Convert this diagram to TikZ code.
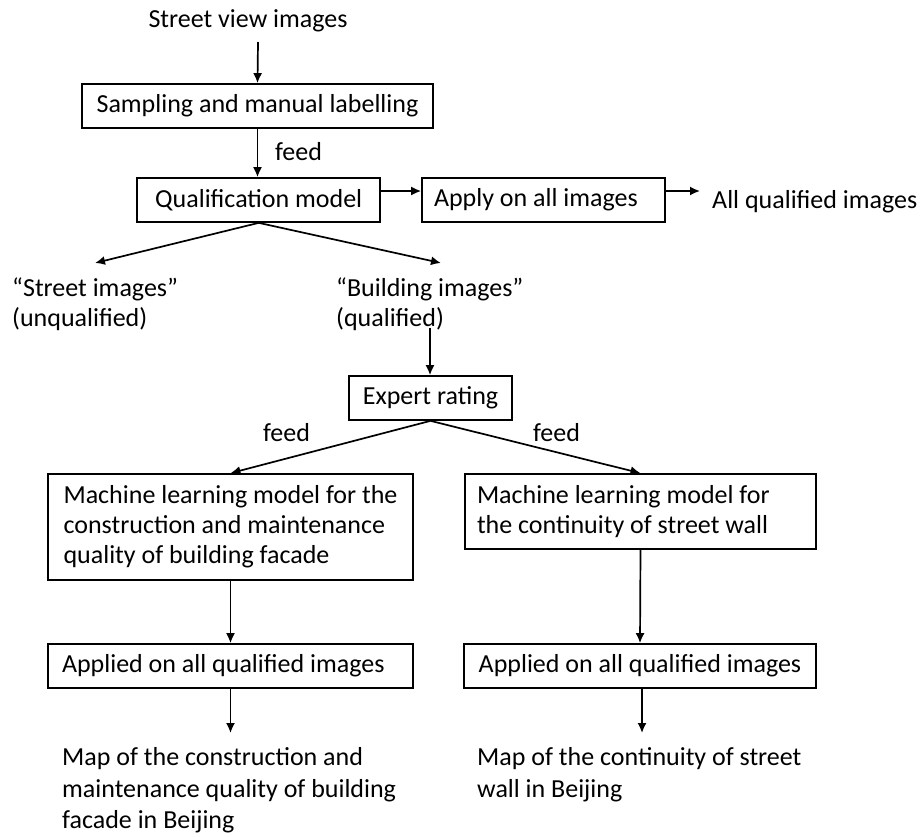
\documentclass[tikz,border=0pt]{standalone}
\usepackage{fontspec}
\setmainfont{Carlito}
\usetikzlibrary{arrows.meta}

\tikzset{
  box/.style={draw, line width=1.7pt, inner xsep=12pt, inner ysep=0pt, minimum height=44pt},
  lbl/.style={inner sep=0pt, align=left},
  arr/.style={line width=1.7pt, -{Latex[length=10pt,width=9pt]}}
}

\begin{document}
\begin{tikzpicture}[x=1pt, y=-1pt, font={\fontsize{26}{30}\selectfont}]
    \useasboundingbox (0,0) rectangle (920,836);
    % top part
    \node[lbl, anchor=base] (src) at (248,27.5) {Street view images};
    \node[box, minimum width=351pt] (sample) at (257.5,106) {Sampling and manual labelling};
    \node[lbl, anchor=base] (feed1) at (298.5,160) {feed};
    \node[box, minimum width=243pt] (qual) at (258.75,200) {Qualification model};
    \node[box, text width=219pt, align=flush left] (apply) at (543.5,200) {Apply on all images};
    \node[lbl, anchor=base west] (allq) at (712,208.4) {All qualified images};
    \node[lbl, anchor=north west] (unq) at (12,277.5) {“Street images”\\(unqualified)};
    \node[lbl, anchor=north west] (bld) at (336,277.5) {“Building images”\\(qualified)};
    \coordinate (srcout) at (258,42);
    \coordinate (allqin) at (700,191);
    \coordinate (unqin) at (95,263);
    \coordinate (bldin) at (441,263);
    \coordinate (bldout) at (430,328);
    \draw[arr] (srcout) -- (sample.north);
    \draw[arr] (sample.south) -- (sample.south |- qual.north);
    \draw[arr] ([yshift=9pt]qual.east) -- ([yshift=9pt]apply.west);
    \draw[arr] ([yshift=9pt]apply.east) -- (allqin);
    \draw[arr] (qual.south) -- (unqin);
    \draw[arr] (qual.south) -- (bldin);
    % expert rating and models
    \node[box, minimum width=163pt] (expert) at (430.5,398) {Expert rating};
    \draw[arr] (bldout) -- (bldout |- expert.north);
    \node[lbl, anchor=base] (feed2) at (286.5,441) {feed};
    \node[lbl, anchor=base] (feed3) at (556.5,441) {feed};
    \node[box, align=left, minimum width=365pt, minimum height=106pt] (mlA) at (230.5,527)
        {Machine learning model for the\\construction and maintenance\\quality of building facade};
    \node[box, text width=327pt, align=flush left, minimum height=75pt] (mlB) at (640.5,511.5)
        {Machine learning model for\\the continuity of street wall};
    \draw[arr] (expert.south) -- (mlA.north);
    \draw[arr] (expert.south) -- (mlB.north);
    \node[box, inner xsep=14pt, text width=337pt, align=flush left] (appA) at (230.5,666) {Applied on all qualified images};
    \node[box, minimum width=352pt] (appB) at (640,666) {Applied on all qualified images};
    \draw[arr] (mlA.south) -- (appA.north);
    \draw[arr] (mlB.south) -- (appB.north);
    % maps
    \node[lbl, anchor=north west, font={\fontsize{26}{31.5}\selectfont}] (mapA) at (62,747.5)
        {Map of the construction and\\maintenance quality of building\\facade in Beijing};
    \node[lbl, anchor=north west, font={\fontsize{26}{31.5}\selectfont}] (mapB) at (477,747.5)
        {Map of the continuity of street\\wall in Beijing};
    \coordinate (mapAin) at (230.5,733);
    \coordinate (mapBin) at (642,733);
    \draw[arr] (appA.south) -- (mapAin);
    \draw[arr] (appB.south -| mapBin) -- (mapBin);
\end{tikzpicture}
\end{document}
